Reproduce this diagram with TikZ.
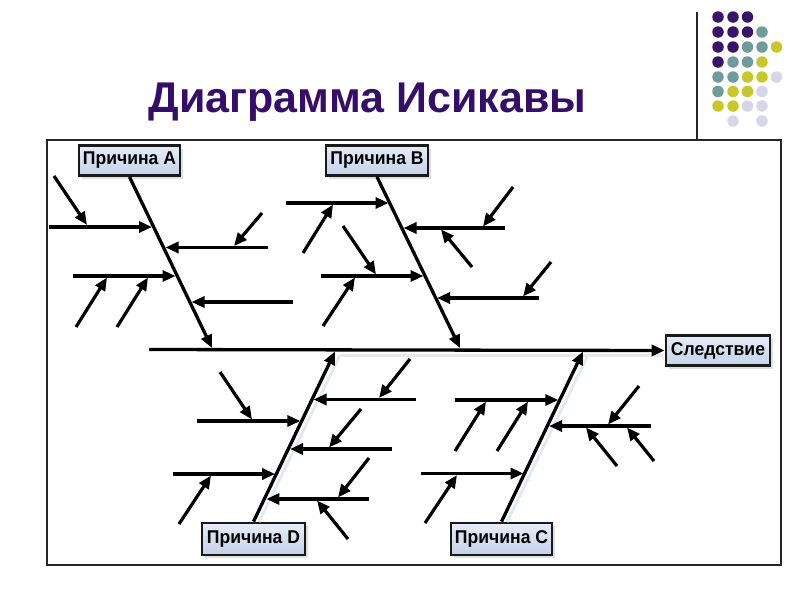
\documentclass[tikz,border=0pt]{standalone}
\usepackage{fontspec}
\setmainfont{Liberation Sans}
\newfontfamily\boxfont{Liberation Sans}[FakeStretch=0.95]
\usetikzlibrary{arrows.meta,shadows}
\definecolor{titlecol}{HTML}{350E6A}
\definecolor{dP}{HTML}{3A1468}
\definecolor{dT}{HTML}{6E9C9C}
\definecolor{dY}{HTML}{C8C82A}
\definecolor{dL}{HTML}{D6D6EA}
\definecolor{boxtop}{HTML}{E6ECF7}
\definecolor{boxbot}{HTML}{C4D2EA}
\definecolor{ghost}{HTML}{E4E9F1}
\begin{document}
\begin{tikzpicture}[x=1pt,y=-1pt,
  cause/.style={draw=black!90,line width=2.8pt,top color=boxtop,bottom color=boxbot,
    font=\boxfont\bfseries\fontsize{18.5}{20}\selectfont,inner sep=0pt,minimum height=30pt,minimum width=101pt,
    drop shadow={shadow xshift=3pt,shadow yshift=-3pt,fill=black!25}},
  bone/.style={line width=3.3pt,-{Triangle[length=13pt,width=11pt]}},
  branch/.style={line width=3.2pt,-{Triangle[length=13pt,width=11pt]}},
  ghostline/.style={line width=3pt,ghost},
  frameline/.style={line width=1.2pt,black!85},
  dot/.style={circle,inner sep=0pt,minimum size=11.5pt}]
\useasboundingbox (0,0) rectangle (800,600);
% title and slide decoration
\node[anchor=base,text=titlecol,font=\bfseries\fontsize{43}{45}\selectfont] (title) at (367.5,112) {Диаграмма Исикавы};
\coordinate (vl0) at (697,12);
\coordinate (vl1) at (697,140);
\draw[frameline] (vl0) -- (vl1);
\foreach \c/\x/\y in {dP/718/17,dP/733/17,dP/747.5/17,
  dP/718/32,dP/733/32,dP/747.5/32,dT/762/32,
  dP/718/47,dP/733/47,dT/747.5/47,dT/762/47,dY/776.5/47,
  dP/718/62,dT/733/62,dT/747.5/62,dY/762/62,
  dT/718/77,dT/733/77,dY/747.5/77,dY/762/77,dL/776.5/77,
  dT/718/91.5,dY/733/91.5,dY/747.5/91.5,dL/762/91.5,
  dY/718/106,dY/733/106,dL/747.5/106,dL/762/106,
  dL/733/121,dL/762/121}
  \node[dot,fill=\c] at (\x,\y) {};
% frame
\node[draw=black!85,line width=1.2pt,minimum width=734pt,minimum height=425pt,inner sep=0pt] (frame) at (414,352.5) {};
% boxes
\node[cause,minimum width=101pt] (boxA) at (129.5,160.5) {Причина A};
\node[cause,minimum width=102pt] (boxB) at (377,160.5) {Причина B};
\node[cause,minimum width=103pt,minimum height=32pt] (boxD) at (253.5,539) {Причина D};
\node[cause,minimum width=101pt,minimum height=32pt] (boxC) at (501.5,539) {Причина C};
\node[cause,minimum width=104pt] (eff) at (718,350.5) {Следствие};
% spine and bones
\coordinate (sp0) at (149,349.5);
\coordinate (tA) at (212,348);
\coordinate (tB) at (460,348);
\coordinate (tD) at (335,351.5);
\coordinate (tC) at (583,351.5);
\coordinate (gD0) at (259,522);
\coordinate (gD1) at (340,355);
\coordinate (gC0) at (507,522);
\coordinate (gC1) at (588,355);
\coordinate (gS0) at (340,355.5);
\coordinate (gS1) at (663,355.5);
\draw[ghostline] (gD0) -- (gD1);
\draw[ghostline] (gC0) -- (gC1);
\draw[ghostline] (gS0) -- (gS1);
\draw[bone] (sp0) -- (eff.west);
\draw[bone] (boxA.south) -- (tA);
\draw[bone] (boxB.south) -- (tB);
\draw[bone] (boxD.north) -- (tD);
\draw[bone] (boxC.north) -- (tC);
% ---- branches of A
\coordinate (a1s) at (49,227);   \coordinate (a1t) at (152,227);
\coordinate (a1bs) at (54,176);  \coordinate (a1bt) at (87,225);
\coordinate (a2s) at (268,247.5);\coordinate (a2t) at (165.5,247.5);
\coordinate (a2bs) at (262,213); \coordinate (a2bt) at (234,246);
\coordinate (a3s) at (73,276);   \coordinate (a3t) at (175.5,276);
\coordinate (a3bs) at (76,327);  \coordinate (a3bt) at (107,277.5);
\coordinate (a3cs) at (117,327); \coordinate (a3ct) at (148,277.5);
\coordinate (a4s) at (293,302);  \coordinate (a4t) at (191.5,302);
\draw[branch] (a1s) -- (a1t);
\draw[branch] (a1bs) -- (a1bt);
\draw[branch] (a2s) -- (a2t);
\draw[branch] (a2bs) -- (a2bt);
\draw[branch] (a3s) -- (a3t);
\draw[branch] (a3bs) -- (a3bt);
\draw[branch] (a3cs) -- (a3ct);
\draw[branch] (a4s) -- (a4t);
% ---- branches of B
\coordinate (b1s) at (286,203);  \coordinate (b1t) at (388.5,203);
\coordinate (b1bs) at (303,253); \coordinate (b1bt) at (333,204.5);
\coordinate (b2s) at (505,228);  \coordinate (b2t) at (403.5,228);
\coordinate (b2bs) at (513,187); \coordinate (b2bt) at (483,226.5);
\coordinate (b2cs) at (472,267); \coordinate (b2ct) at (441,229.5);
\coordinate (b3s) at (321,276);  \coordinate (b3t) at (423.5,276);
\coordinate (b3bs) at (343,226); \coordinate (b3bt) at (376,274.5);
\coordinate (b3cs) at (323,326); \coordinate (b3ct) at (355,277.5);
\coordinate (b4s) at (539,298);  \coordinate (b4t) at (437,298);
\coordinate (b4bs) at (551,262); \coordinate (b4bt) at (523,296.5);
\draw[branch] (b1s) -- (b1t);
\draw[branch] (b1bs) -- (b1bt);
\draw[branch] (b2s) -- (b2t);
\draw[branch] (b2bs) -- (b2bt);
\draw[branch] (b2cs) -- (b2ct);
\draw[branch] (b3s) -- (b3t);
\draw[branch] (b3bs) -- (b3bt);
\draw[branch] (b3cs) -- (b3ct);
\draw[branch] (b4s) -- (b4t);
\draw[branch] (b4bs) -- (b4bt);
% ---- branches of D
\coordinate (d1s) at (416,399.5); \coordinate (d1t) at (313.5,399.5);
\coordinate (d1bs) at (410,359);  \coordinate (d1bt) at (379,398);
\coordinate (d2s) at (197,421);   \coordinate (d2t) at (300.3,421);
\coordinate (d2bs) at (220,372);  \coordinate (d2bt) at (252,419.5);
\coordinate (d3s) at (392,449);   \coordinate (d3t) at (290,449);
\coordinate (d3bs) at (361,409);  \coordinate (d3bt) at (329,447.5);
\coordinate (d4s) at (173,474);   \coordinate (d4t) at (275.2,474);
\coordinate (d4bs) at (179,524);  \coordinate (d4bt) at (211,475.5);
\coordinate (d5s) at (369,499);   \coordinate (d5t) at (266.4,499);
\coordinate (d5bs) at (369,458);  \coordinate (d5bt) at (338,497.5);
\coordinate (d5cs) at (348,539);  \coordinate (d5ct) at (317,500.5);
\draw[branch] (d1s) -- (d1t);
\draw[branch] (d1bs) -- (d1bt);
\draw[branch] (d2s) -- (d2t);
\draw[branch] (d2bs) -- (d2bt);
\draw[branch] (d3s) -- (d3t);
\draw[branch] (d3bs) -- (d3bt);
\draw[branch] (d4s) -- (d4t);
\draw[branch] (d4bs) -- (d4bt);
\draw[branch] (d5s) -- (d5t);
\draw[branch] (d5bs) -- (d5bt);
\draw[branch] (d5cs) -- (d5ct);
% ---- branches of C
\coordinate (c1s) at (455,400);   \coordinate (c1t) at (558.3,400);
\coordinate (c1bs) at (455,451);  \coordinate (c1bt) at (486,401.5);
\coordinate (c1cs) at (497,451);  \coordinate (c1ct) at (528,401.5);
\coordinate (c2s) at (651,426);   \coordinate (c2t) at (549,426);
\coordinate (c2bs) at (639,386);  \coordinate (c2bt) at (608,424.5);
\coordinate (c2cs) at (617,466);  \coordinate (c2ct) at (586,427.5);
\coordinate (c2ds) at (654,461);  \coordinate (c2dt) at (627,427.5);
\coordinate (c3s) at (421,473.5); \coordinate (c3t) at (523.5,473.5);
\coordinate (c3bs) at (425,523);  \coordinate (c3bt) at (457,475);
\draw[branch] (c1s) -- (c1t);
\draw[branch] (c1bs) -- (c1bt);
\draw[branch] (c1cs) -- (c1ct);
\draw[branch] (c2s) -- (c2t);
\draw[branch] (c2bs) -- (c2bt);
\draw[branch] (c2cs) -- (c2ct);
\draw[branch] (c2ds) -- (c2dt);
\draw[branch] (c3s) -- (c3t);
\draw[branch] (c3bs) -- (c3bt);
\end{tikzpicture}
\end{document}
